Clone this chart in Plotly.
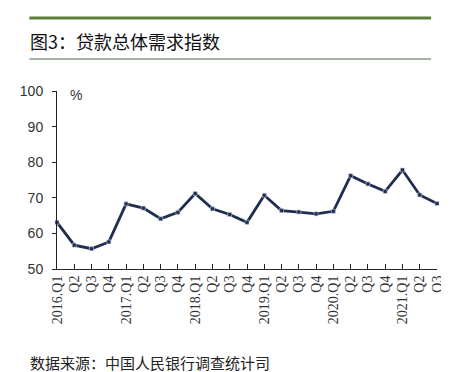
import plotly.graph_objects as go

quarters = ["2016.Q1", "Q2", "Q3", "Q4",
            "2017.Q1", "Q2", "Q3", "Q4",
            "2018.Q1", "Q2", "Q3", "Q4",
            "2019.Q1", "Q2", "Q3", "Q4",
            "2020.Q1", "Q2", "Q3", "Q4",
            "2021.Q1", "Q2", "Q3"]
loan_demand = [63.1, 56.7, 55.7, 57.6,
               68.3, 67.1, 64.1, 65.9,
               71.2, 66.9, 65.3, 63.1,
               70.7, 66.4, 66.0, 65.5,
               66.2, 76.2, 73.9, 71.8,
               77.8, 70.8, 68.4]
y_ticks = [50, 60, 70, 80, 90, 100]

W, H = 449, 372
L, R, T, B = 49, 15, 83, 111
PW, PH = W - L - R, H - T - B


def px(x):
    return (x - L) / PW


def py(y):
    return (H - B - y) / PH


idx = list(range(len(quarters)))

fig = go.Figure()
fig.add_trace(go.Scatter(
    x=idx, y=loan_demand, mode="lines+markers",
    line=dict(color="#1f2d4f", width=2.8),
    marker=dict(symbol="square", size=4, color="#1f2d4f",
                line=dict(color="#c8ccd6", width=0.6)),
    cliponaxis=False, showlegend=False,
))

green = "#5b7f3a"
fig.update_layout(
    width=W, height=H,
    margin=dict(l=L, r=R, t=T, b=B),
    paper_bgcolor="white", plot_bgcolor="white",
    font=dict(family="Liberation Serif", color="#222"),
    xaxis=dict(
        range=[0, len(quarters) - 1],
        tickmode="array", tickvals=idx, ticktext=quarters,
        tickangle=-90, ticks="inside", ticklen=5, tickcolor="#222",
        showline=True, linecolor="#222", linewidth=1,
        showgrid=False, zeroline=False,
        tickfont=dict(family="Liberation Serif", size=14, color="#333"),
    ),
    yaxis=dict(
        range=[50, 100], tickvals=y_ticks,
        ticks="outside", ticklen=4, tickcolor="#222",
        ticklabelstandoff=6,
        showline=True, linecolor="#222", linewidth=1,
        showgrid=False, zeroline=False,
        tickfont=dict(family="Liberation Sans", size=14, color="#333"),
    ),
    shapes=[
        dict(type="line", xref="paper", yref="paper",
             x0=px(21), x1=px(428), y0=py(10), y1=py(10),
             line=dict(color=green, width=3)),
        dict(type="line", xref="paper", yref="paper",
             x0=px(21), x1=px(428), y0=py(51), y1=py(51),
             line=dict(color="#4d6640", width=1)),
        dict(type="line", xref="paper", yref="paper",
             x0=px(19), x1=px(428), y0=py(368), y1=py(368),
             line=dict(color=green, width=3.5)),
    ],
    annotations=[
        dict(text="图3：贷款总体需求指数", xref="paper", yref="paper",
             x=px(20), y=py(33), xanchor="left", yanchor="middle",
             showarrow=False,
             font=dict(family="Noto Sans CJK SC", size=18, color="#111")),
        dict(text="%", xref="paper", yref="paper",
             x=px(60), y=py(87), xanchor="left", yanchor="middle",
             showarrow=False,
             font=dict(family="Liberation Sans", size=14, color="#333")),
        dict(text="数据来源：中国人民银行调查统计司", xref="paper", yref="paper",
             x=px(20), y=py(354), xanchor="left", yanchor="middle",
             showarrow=False,
             font=dict(family="Noto Sans CJK SC", size=15, color="#222")),
    ],
)

fig.write_html("out.html")
